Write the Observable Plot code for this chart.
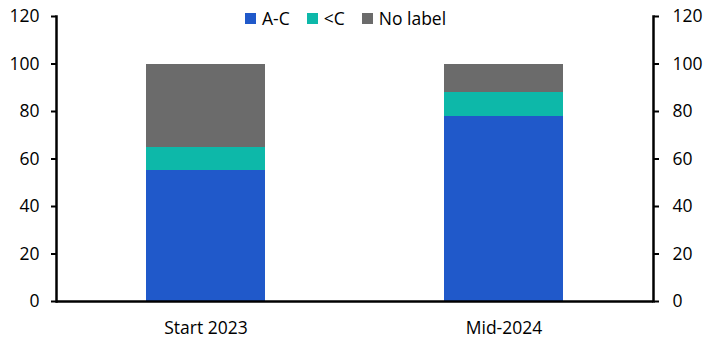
<!DOCTYPE html>
<html>
<head>
<meta charset="utf-8">
<script src="https://cdn.jsdelivr.net/npm/d3@7"></script>
<script src="https://cdn.jsdelivr.net/npm/@observablehq/plot@0.6"></script>
<style>
  html, body { margin: 0; padding: 0; background: #fff; }
  #wrap { position: relative; width: 716px; height: 357px; font-family: "Open Sans", sans-serif; }
  #legend { position: absolute; top: 6px; left: 245px; display: flex; align-items: center; font-size: 17.5px; line-height: 24px; color: #000; }
  #legend .item { display: flex; align-items: center; margin-right: 17px; }
  #legend .sw { width: 11px; height: 11px; margin-right: 6px; }
</style>
</head>
<body>
<div id="wrap"><div id="legend"></div></div>
<script>
const categories = ["Start 2023", "Mid-2024"];
const series = ["A-C", "<C", "No label"];
const valuesAC = [55, 78];
const valuesBelowC = [10, 10];
const valuesNoLabel = [35, 12];
const colors = ["#2059CA", "#0DB8A9", "#6B6B6B"];
const yTicks = [0, 20, 40, 60, 80, 100, 120];

const seriesValues = [valuesAC, valuesBelowC, valuesNoLabel];
const data = [];
series.forEach((s, i) => categories.forEach((c, j) => data.push({category: c, series: s, value: seriesValues[i][j]})));

const font = '"Open Sans", sans-serif';
const chart = Plot.plot({
  width: 716,
  height: 357,
  marginLeft: 56,
  marginRight: 63,
  marginTop: 16,
  marginBottom: 56,
  style: {fontFamily: font, fontSize: "17.5px", color: "#000", background: "#fff"},
  x: {domain: categories, paddingInner: 0.6, paddingOuter: 0.3, label: null},
  y: {domain: [0, 120], label: null},
  color: {domain: series, range: colors},
  marks: [
    Plot.barY(data, {x: "category", y: "value", fill: "series", shapeRendering: "crispEdges"}),
    Plot.axisY({anchor: "left", ticks: yTicks, tickSize: 5, tickPadding: 12, strokeWidth: 2, label: null, fontSize: 17.5}),
    Plot.axisY({anchor: "right", ticks: yTicks, tickSize: 5, tickPadding: 14, strokeWidth: 2, label: null, fontSize: 17.5}),
    Plot.axisX({tickSize: 0, tickPadding: 20, label: null, fontSize: 17.5}),
    Plot.frame({anchor: "left", stroke: "#000", strokeWidth: 2.5}),
    Plot.frame({anchor: "right", stroke: "#000", strokeWidth: 2.5}),
    Plot.ruleY([0], {stroke: "#000", strokeWidth: 2.5})
  ]
});
document.getElementById("wrap").prepend(chart);

const legend = document.getElementById("legend");
series.forEach((s, i) => {
  const item = document.createElement("div");
  item.className = "item";
  const sw = document.createElement("div");
  sw.className = "sw";
  sw.style.background = colors[i];
  const t = document.createElement("span");
  t.textContent = s;
  item.appendChild(sw);
  item.appendChild(t);
  legend.appendChild(item);
});
</script>
</body>
</html>
